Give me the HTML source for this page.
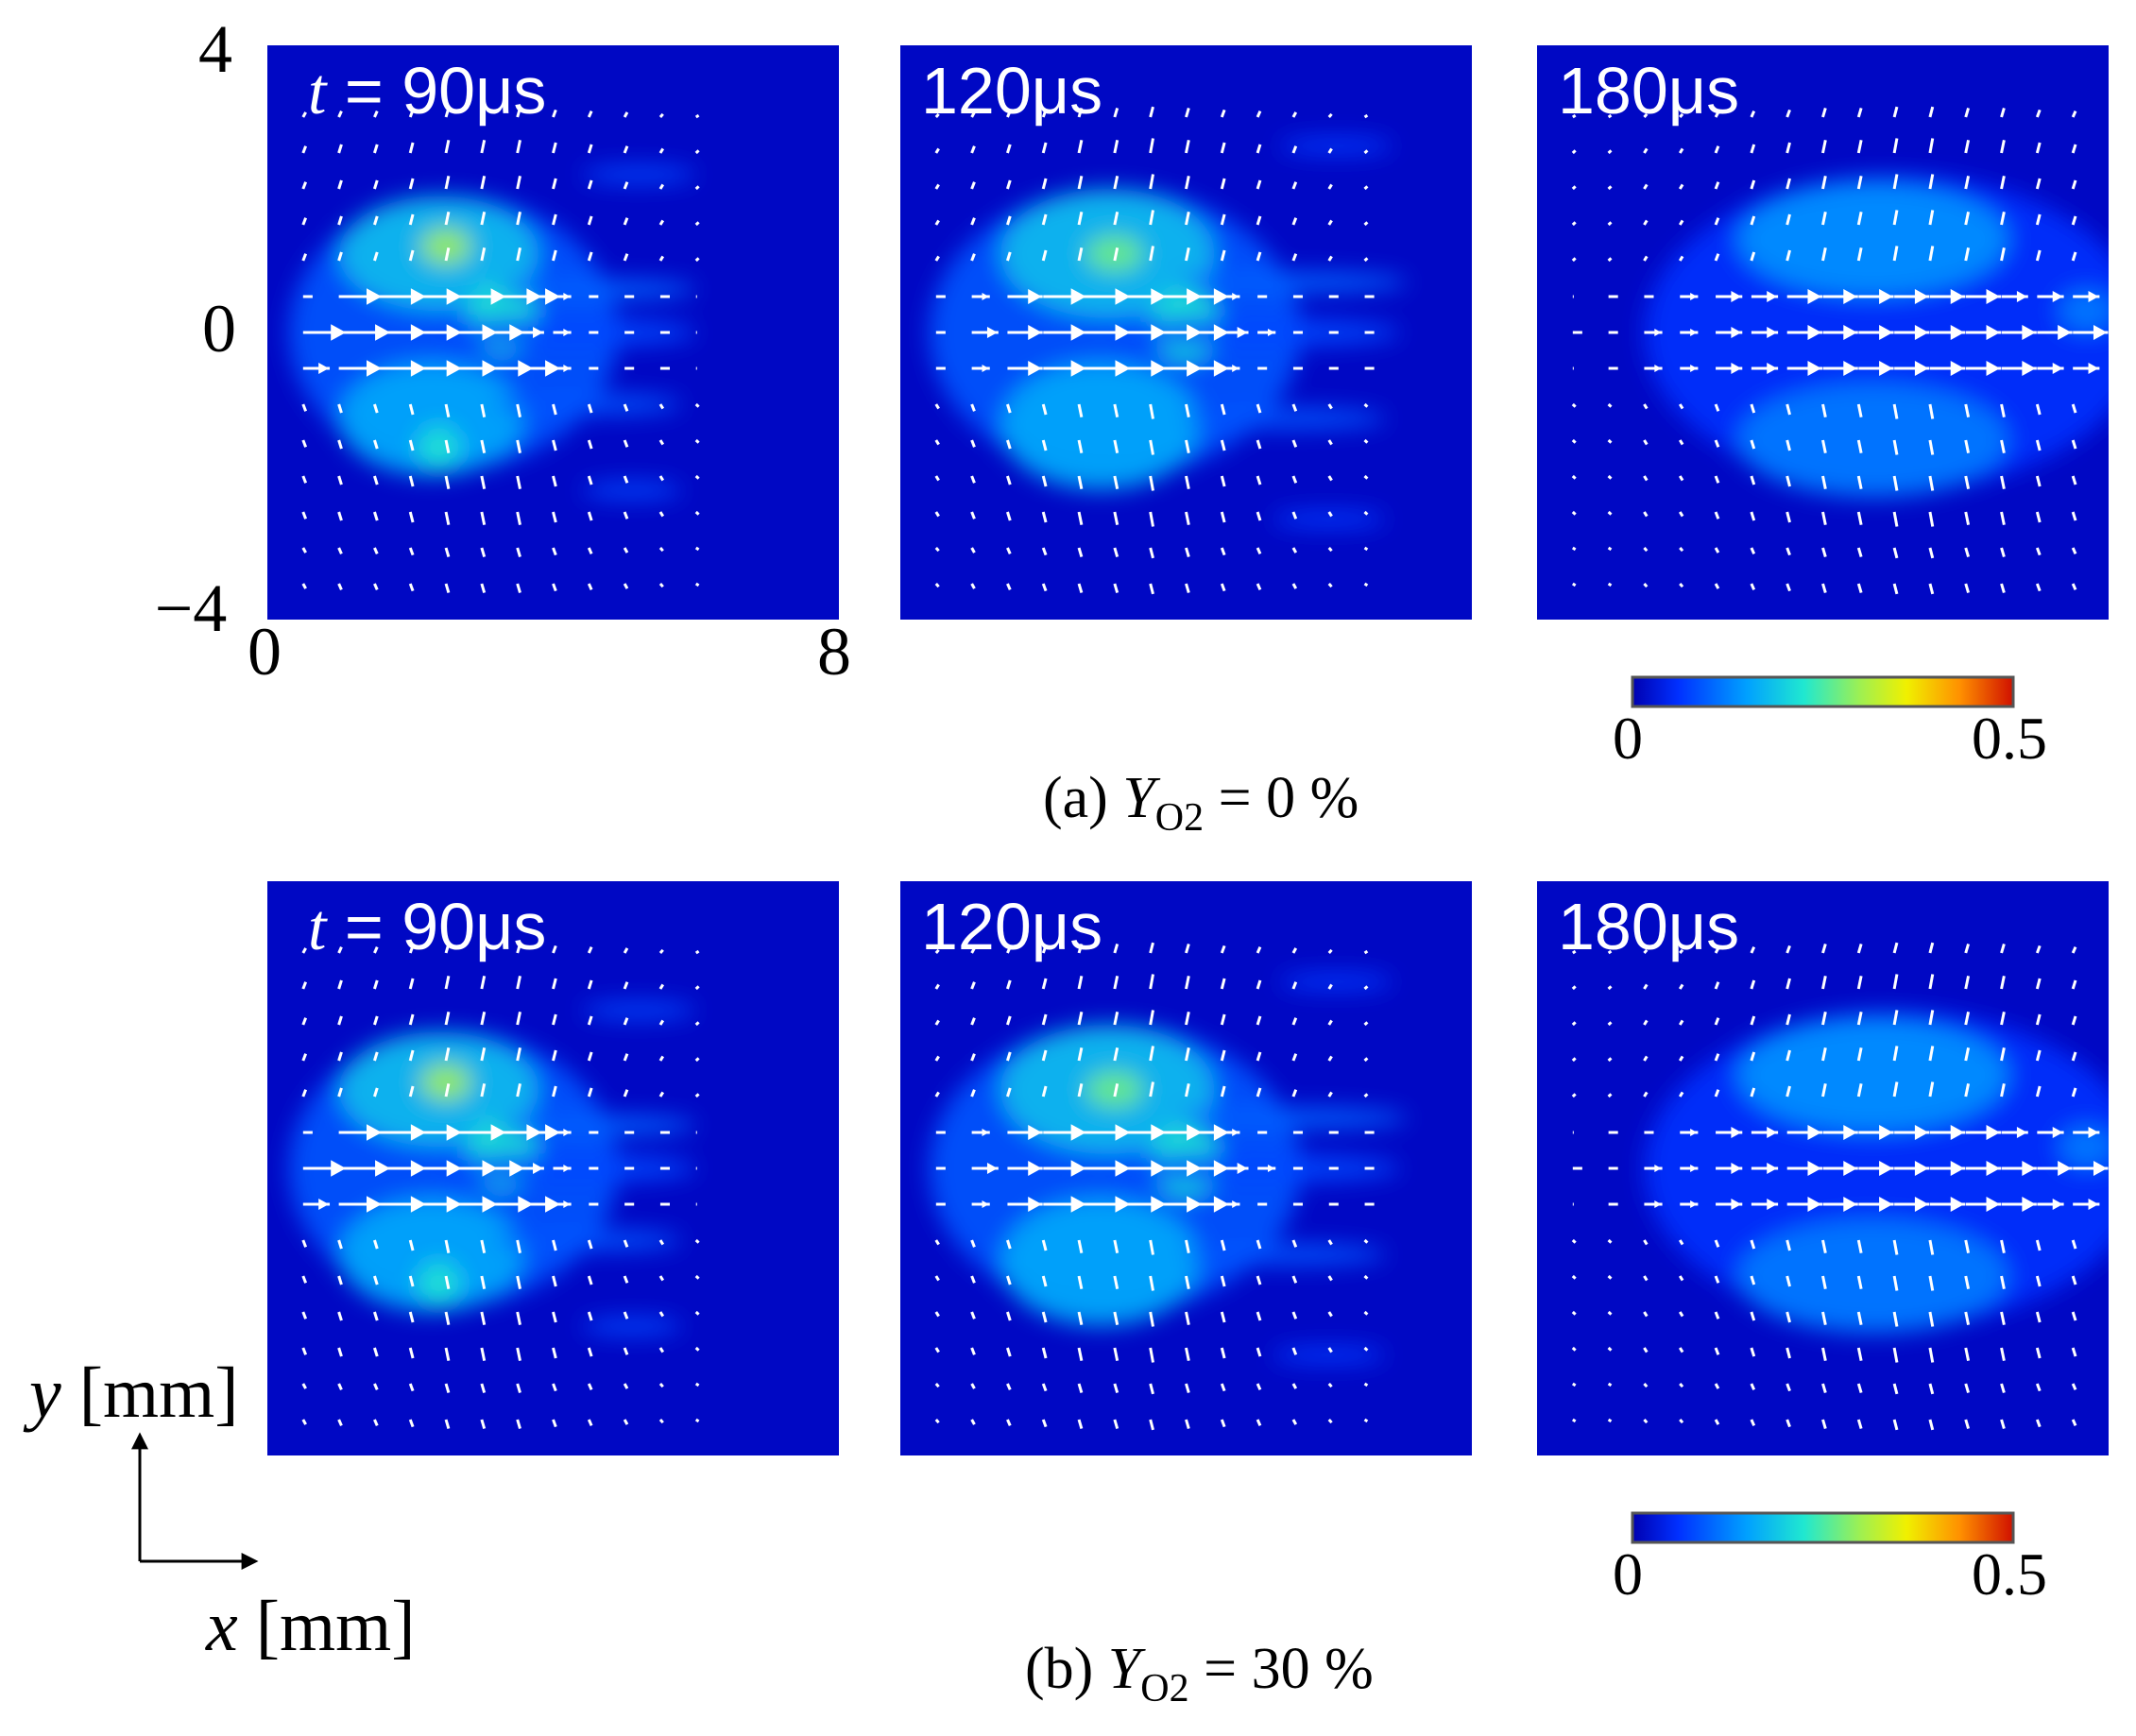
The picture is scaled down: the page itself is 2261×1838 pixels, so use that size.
<!DOCTYPE html>
<html><head><meta charset="utf-8"><style>
html,body{margin:0;padding:0;background:#fff;}
svg{display:block;}
</style></head><body>
<svg id="fig" width="2261" height="1838" viewBox="0 0 2261 1838" xmlns="http://www.w3.org/2000/svg">
<defs>
<filter id="blur" x="-20%" y="-20%" width="140%" height="140%"><feGaussianBlur stdDeviation="12"/></filter>
<linearGradient id="jet" x1="0" x2="1" y1="0" y2="0">
<stop offset="0" stop-color="#0000b0"/><stop offset="0.12" stop-color="#0030ff"/><stop offset="0.3" stop-color="#00a0ff"/><stop offset="0.45" stop-color="#20e8d0"/><stop offset="0.6" stop-color="#a0f050"/><stop offset="0.72" stop-color="#f0f000"/><stop offset="0.86" stop-color="#ff9000"/><stop offset="1" stop-color="#d01000"/>
</linearGradient>
<marker id="ah" viewBox="0 0 10 10" refX="8" refY="5" markerWidth="6" markerHeight="6" orient="auto"><path d="M0,0 L10,5 L0,10 z" fill="#000"/></marker>
</defs>
<g id="panels"></g>
<g font-family="Liberation Serif, serif" fill="#000">
<text x="228" y="76" font-size="72" text-anchor="middle">4</text>
<text x="232" y="372" font-size="72" text-anchor="middle">0</text>
<text x="202" y="668" font-size="72" text-anchor="middle">−4</text>
<text x="280" y="714" font-size="72" text-anchor="middle">0</text>
<text x="883" y="714" font-size="72" text-anchor="middle">8</text>
<text x="1104" y="865" font-size="62">(a) <tspan font-style="italic">Y</tspan><tspan font-size="42" dy="14">O2</tspan><tspan dy="-14"> = 0 %</tspan></text>
<text x="1085" y="1787" font-size="62">(b) <tspan font-style="italic">Y</tspan><tspan font-size="42" dy="14">O2</tspan><tspan dy="-14"> = 30 %</tspan></text>
<text x="31" y="1500" font-size="76"><tspan font-style="italic">y</tspan> [mm]</text>
<text x="218" y="1747" font-size="76"><tspan font-style="italic">x</tspan> [mm]</text>
</g>
<g stroke="#000" stroke-width="3" fill="none">
<line x1="148" y1="1653" x2="148" y2="1520" marker-end="url(#ah)"/>
<line x1="148" y1="1653" x2="270" y2="1653" marker-end="url(#ah)"/>
</g>
<g>
<rect x="1728" y="717" width="403" height="31" fill="url(#jet)" stroke="#555" stroke-width="3"/>
<text x="1723" y="803" font-family="Liberation Serif, serif" font-size="64" text-anchor="middle">0</text>
<text x="2127" y="803" font-family="Liberation Serif, serif" font-size="64" text-anchor="middle">0.5</text>
</g>
<g>
<rect x="1728" y="1602" width="403" height="31" fill="url(#jet)" stroke="#555" stroke-width="3"/>
<text x="1723" y="1688" font-family="Liberation Serif, serif" font-size="64" text-anchor="middle">0</text>
<text x="2127" y="1688" font-family="Liberation Serif, serif" font-size="64" text-anchor="middle">0.5</text>
</g>
</svg>
<script>
// panel layout
const panelX = [283, 953, 1627];
const panelY = [48, 933];
const panelLabels = ["t = 90μs", "120μs", "180μs"];
// blobs per time: [x mm, y mm, rx mm, ry mm, level 0..0.5]
const blobs90 = [[2.6,0,2.3,1.9,0.09],[2.4,1.1,1.4,0.8,0.18],[2.3,-1.2,1.3,0.8,0.16],[3.3,0.2,0.5,0.5,0.22],[2.5,1.2,0.35,0.25,0.3],[2.4,-1.6,0.3,0.3,0.22],[4.6,0.6,1.4,0.15,0.1],[4.5,-1.0,1.3,0.15,0.09],[4.2,0,1.8,0.2,0.08],[5.2,2.2,0.8,0.12,0.08],[5.1,-2.2,0.7,0.12,0.08]];
const blobs120 = [[3.0,0,2.6,2.0,0.09],[2.9,1.1,1.5,0.9,0.18],[2.8,-1.3,1.4,0.9,0.16],[4.0,0.1,0.5,0.5,0.22],[3.0,1.1,0.4,0.25,0.27],[5.5,0.7,1.6,0.15,0.1],[5.4,-1.2,1.4,0.15,0.09],[5.0,0,2.0,0.2,0.08],[6.1,2.6,0.8,0.12,0.07],[6.0,-2.6,0.8,0.12,0.07]];
const blobs180 = [[5.0,0,3.5,2.2,0.06],[4.7,1.3,1.9,0.8,0.14],[4.7,-1.5,1.9,0.8,0.12],[7.7,0.3,0.4,0.3,0.12]];
const panelBlobs = [blobs90, blobs120, blobs180];
// arrow grid columns x (mm), rows y (mm)
const colX = [0.5,1,1.5,2,2.5,3,3.5,4,4.5,5,5.5,6,6.5,7,7.5];
const rowY = [3,2.5,2,1.5,1,0.5,0,-0.5,-1,-1.5,-2,-2.5,-3,-3.5];
// strong horizontal rows u for y = 0.5, 0, -0.5
const u90 = [[0.1,0.5,0.6,0.6,0.7,0.7,0.5,0.2,0.1,0.1,0.1,0,0,0,0],[0.5,0.6,0.6,0.6,0.6,0.5,0.3,0.2,0.1,0.1,0.1,0,0,0,0],[0.3,0.5,0.6,0.6,0.6,0.6,0.5,0.2,0.1,0.1,0.1,0,0,0,0]];
const u120 = [[0.1,0.2,0.4,0.5,0.6,0.6,0.6,0.5,0.2,0.1,0.1,0.1,0.1,0,0],[0.1,0.3,0.4,0.5,0.6,0.6,0.6,0.5,0.3,0.2,0.1,0.1,0.1,0,0],[0.1,0.2,0.4,0.5,0.6,0.6,0.6,0.5,0.2,0.1,0.1,0.1,0.1,0,0]];
const u180 = [[0,0.1,0.1,0.2,0.3,0.3,0.4,0.4,0.4,0.4,0.4,0.4,0.3,0.3,0.3],[0.1,0.1,0.2,0.2,0.3,0.3,0.4,0.4,0.4,0.4,0.4,0.4,0.4,0.4,0.4],[0,0.1,0.2,0.2,0.3,0.3,0.4,0.4,0.4,0.4,0.4,0.4,0.4,0.3,0.3]];
const panelU = [u90, u120, u180];
// vertical component amplitude per column for off-axis rows
const v90 = [0.08,0.1,0.1,0.12,0.15,0.15,0.15,0.12,0.1,0.08,0.05,0.03,0.03,0,0];
const v120 = [0.05,0.08,0.1,0.12,0.15,0.15,0.17,0.15,0.12,0.1,0.08,0.05,0.03,0.03,0];
const v180 = [0.03,0.03,0.05,0.05,0.08,0.1,0.12,0.15,0.15,0.17,0.17,0.15,0.15,0.12,0.1];
const panelV = [v90, v120, v180];
const maxX = [6, 6.5, 7.5];

const NS = "http://www.w3.org/2000/svg";
const PW = 605, PH = 608;
function jet(v){
  const t = Math.max(0, Math.min(1, v / 0.5));
  const st = [[0,[0,0,176]],[0.12,[0,48,255]],[0.3,[0,160,255]],[0.45,[32,232,208]],[0.6,[160,240,80]],[0.72,[240,240,0]],[0.86,[255,144,0]],[1,[208,16,0]]];
  for (let i = 1; i < st.length; i++) {
    if (t <= st[i][0]) {
      const a = st[i-1], b = st[i], f = (t - a[0]) / (b[0] - a[0]);
      return "rgb(" + [0,1,2].map(k => Math.round(a[1][k] + f*(b[1][k]-a[1][k]))).join(",") + ")";
    }
  }
  return "rgb(208,16,0)";
}
const root = document.getElementById("panels");
panelY.forEach((py, r) => {
  panelX.forEach((px, c) => {
    const sx = x => px + x / 8 * PW;
    const sy = y => py + PH/2 - y / 8 * PH;
    const g = document.createElementNS(NS, "g");
    
    
    const clipId = "clip" + r + c;
    g.innerHTML = '<clipPath id="' + clipId + '"><rect x="' + px + '" y="' + py + '" width="' + PW + '" height="' + PH + '"/></clipPath>';
    const bg = document.createElementNS(NS, "rect");
    bg.setAttribute("x", px); bg.setAttribute("y", py); bg.setAttribute("width", PW); bg.setAttribute("height", PH);
    bg.setAttribute("fill", "#0008c4");
    
    
    g.appendChild(bg);
    const bl = document.createElementNS(NS, "g");
    bl.setAttribute("clip-path", "url(#" + clipId + ")");
    const inner = document.createElementNS(NS, "g");
    inner.setAttribute("filter", "url(#blur)");
    panelBlobs[c].forEach(b => {
      const e = document.createElementNS(NS, "ellipse");
      e.setAttribute("cx", sx(b[0])); e.setAttribute("cy", sy(b[1]));
      e.setAttribute("rx", b[2] / 8 * PW); e.setAttribute("ry", b[3] / 8 * PH);
      e.setAttribute("fill", jet(b[4]));
      e.setAttribute("opacity", "0.9");
      
      
      inner.appendChild(e);
    });
    bl.appendChild(inner);
    const ag = document.createElementNS(NS, "g");
    ag.setAttribute("stroke", "#fff"); ag.setAttribute("fill", "#fff");
    rowY.forEach(y => {
      colX.forEach((x, k) => {
        if (x > maxX[c] && c < 2) return;
        let u, v;
        const ri = [0.5, 0, -0.5].indexOf(y);
        if (ri >= 0) { u = panelU[c][ri][k]; v = 0; }
        else { u = 0.02; v = Math.sign(y) * panelV[c][k] * (Math.abs(y) <= 2.5 ? 1 : 0.7); }
        const x1 = sx(x), y1 = sy(y);
        const x2 = x1 + u / 8 * PW * 1.2, y2 = y1 - v / 8 * PH * 1.2;
        const l = document.createElementNS(NS, "line");
        l.setAttribute("x1", x1); l.setAttribute("y1", y1); l.setAttribute("x2", x2 + 1); l.setAttribute("y2", y2);
        l.setAttribute("stroke-width", ri >= 0 ? 3 : 3);
        
        
        ag.appendChild(l);
        const len = Math.hypot(x2 - x1, y2 - y1);
        if (len > 16) {
          const ux = (x2 - x1) / len, uy = (y2 - y1) / len, h = Math.min(16, len * 0.4), w = h * 0.55;
          const p = document.createElementNS(NS, "path");
          p.setAttribute("d", "M" + x2 + "," + y2 + " L" + (x2 - ux*h - uy*w) + "," + (y2 - uy*h + ux*w) + " L" + (x2 - ux*h + uy*w) + "," + (y2 - uy*h - ux*w) + "z");
          p.setAttribute("stroke", "none");
          
          
          ag.appendChild(p);
        }
      });
    });
    bl.appendChild(ag);
    g.appendChild(bl);
    const t = document.createElementNS(NS, "text");
    t.setAttribute("x", c === 0 ? px + 43 : px + 22); t.setAttribute("y", py + 72);
    t.setAttribute("font-family", "Liberation Sans, sans-serif");
    t.setAttribute("font-size", "70"); t.setAttribute("fill", "#fff");
    
    
    if (c === 0) { t.innerHTML = '<tspan font-family="Liberation Serif, serif" font-style="italic">t</tspan> = 90μs'; }
    else { t.textContent = panelLabels[c]; }
    g.appendChild(t);
    root.appendChild(g);
  });
});
</script>
</body></html>
